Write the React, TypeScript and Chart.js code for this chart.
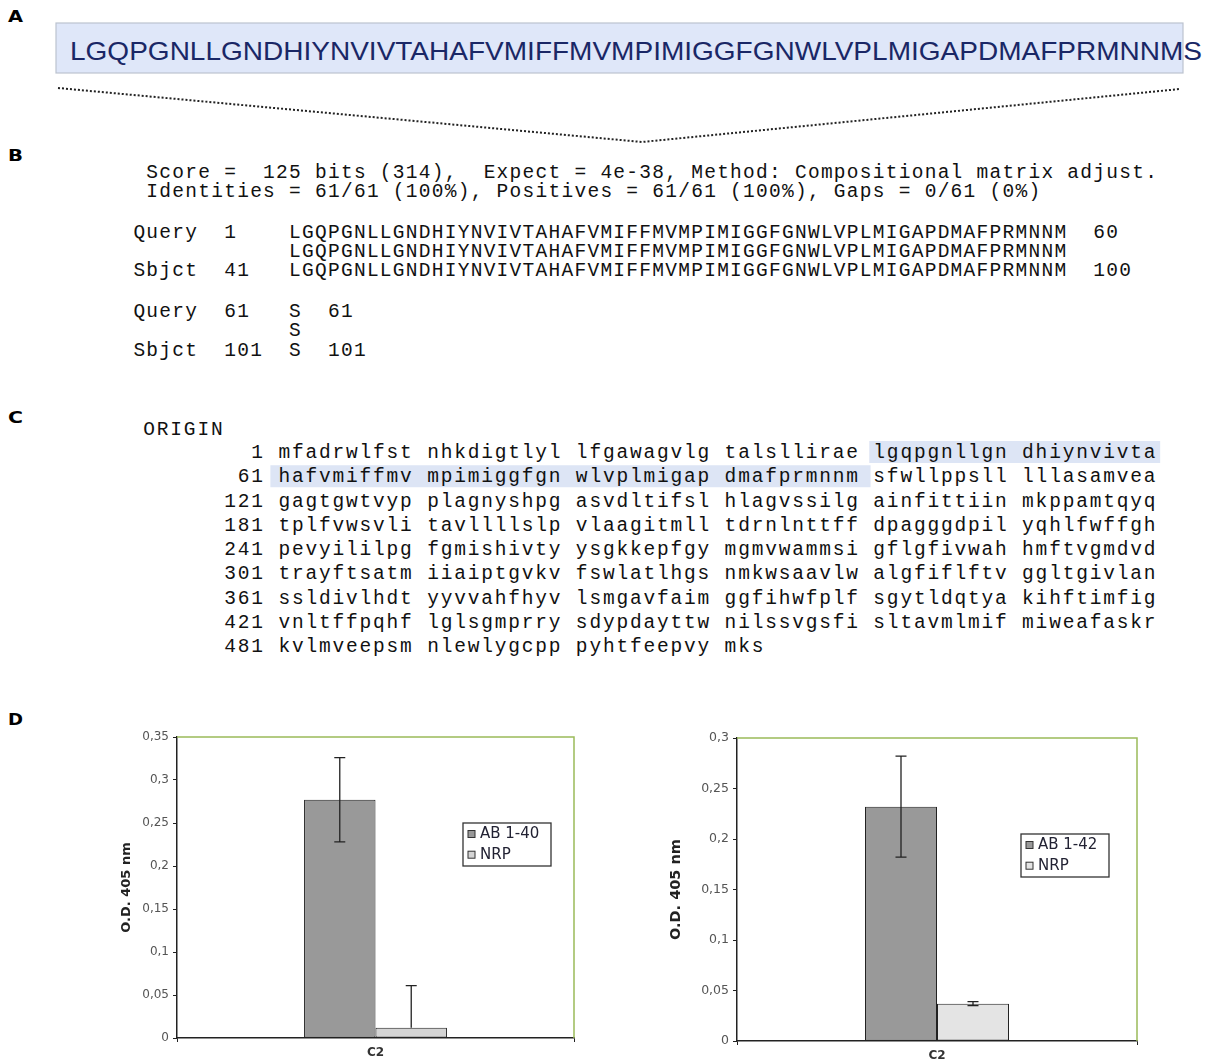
import React, { useEffect, useRef } from 'react';
import { Chart, registerables } from 'chart.js';

Chart.register(...registerables);

// ---------------- Panel A ----------------
const peptide = 'LGQPGNLLGNDHIYNVIVTAHAFVMIFFMVMPIMIGGFGNWLVPLMIGAPDMAFPRMNNMS';

// ---------------- Panel B ----------------
const blastLines = [
  ' Score =  125 bits (314),  Expect = 4e-38, Method: Compositional matrix adjust.',
  ' Identities = 61/61 (100%), Positives = 61/61 (100%), Gaps = 0/61 (0%)',
  'Query  1    LGQPGNLLGNDHIYNVIVTAHAFVMIFFMVMPIMIGGFGNWLVPLMIGAPDMAFPRMNNM  60',
  '            LGQPGNLLGNDHIYNVIVTAHAFVMIFFMVMPIMIGGFGNWLVPLMIGAPDMAFPRMNNM',
  'Sbjct  41   LGQPGNLLGNDHIYNVIVTAHAFVMIFFMVMPIMIGGFGNWLVPLMIGAPDMAFPRMNNM  100',
  'Query  61   S  61',
  '            S',
  'Sbjct  101  S  101',
];

// ---------------- Panel C ----------------
const originStarts = [1, 61, 121, 181, 241, 301, 361, 421, 481];
const originSeqs = [
  'mfadrwlfst nhkdigtlyl lfgawagvlg talsllirae lgqpgnllgn dhiynvivta',
  'hafvmiffmv mpimiggfgn wlvplmigap dmafprmnnm sfwllppsll lllasamvea',
  'gagtgwtvyp plagnyshpg asvdltifsl hlagvssilg ainfittiin mkppamtqyq',
  'tplfvwsvli tavllllslp vlaagitmll tdrnlnttff dpagggdpil yqhlfwffgh',
  'pevyililpg fgmishivty ysgkkepfgy mgmvwammsi gflgfivwah hmftvgmdvd',
  'trayftsatm iiaiptgvkv fswlatlhgs nmkwsaavlw algfiflftv ggltgivlan',
  'ssldivlhdt yyvvahfhyv lsmgavfaim ggfihwfplf sgytldqtya kihftimfig',
  'vnltffpqhf lglsgmprry sdypdayttw nilssvgsfi sltavmlmif miweafaskr',
  'kvlmveepsm nlewlygcpp pyhtfeepvy mks',
];

// ---------------- Panel D (charts) ----------------
const categories = ['C2'];

const ab40Values = [0.277];
const ab40ErrUp = [0.049];
const ab40ErrDown = [0.049];
const nrpAValues = [0.012];
const nrpAErrUp = [0.049];
const nrpAErrDown = [0];

const ab42Values = [0.232];
const ab42ErrUp = [0.05];
const ab42ErrDown = [0.05];
const nrpBValues = [0.037];
const nrpBErrUp = [0.002];
const nrpBErrDown = [0.002];

const yMaxLeft = 0.35;
const yMaxRight = 0.3;
const yStep = 0.05;
const yTitle = 'O.D. 405 nm';

const extrasPlugin = {
  id: 'extras',
  afterDatasetsDraw(chart: any, _args: any, opts: any) {
    const { ctx, chartArea: ca } = chart;
    const y = chart.scales.y;
    ctx.save();
    // green plot frame (top + right)
    ctx.strokeStyle = '#9bbb59';
    ctx.lineWidth = 1.5;
    ctx.beginPath();
    ctx.moveTo(ca.left, ca.top);
    ctx.lineTo(ca.right, ca.top);
    ctx.lineTo(ca.right, ca.bottom);
    ctx.stroke();
    // error bars
    ctx.strokeStyle = '#222';
    ctx.lineWidth = 1.3;
    chart.data.datasets.forEach((ds: any, di: number) => {
      const meta = chart.getDatasetMeta(di);
      meta.data.forEach((bar: any, i: number) => {
        const v = ds.data[i];
        const up = ds.errUp[i];
        const dn = ds.errDown[i];
        const x = bar.x;
        const yT = y.getPixelForValue(v + up);
        const yB = y.getPixelForValue(v - dn);
        const yV = y.getPixelForValue(v);
        const cw = 5.5;
        ctx.beginPath();
        ctx.moveTo(x, up > 0 ? yT : yV);
        ctx.lineTo(x, dn > 0 ? yB : yV);
        if (up > 0) { ctx.moveTo(x - cw, yT); ctx.lineTo(x + cw, yT); }
        if (dn > 0) { ctx.moveTo(x - cw, yB); ctx.lineTo(x + cw, yB); }
        ctx.stroke();
      });
    });
    // legend box
    const lx = ca.left + opts.dx;
    const ly = ca.top + opts.dy;
    const lw = 88;
    const lh = 43;
    ctx.fillStyle = '#fff';
    ctx.fillRect(lx, ly, lw, lh);
    ctx.strokeStyle = '#333';
    ctx.lineWidth = 1.3;
    ctx.strokeRect(lx, ly, lw, lh);
    ctx.font = '15px "DejaVu Sans"';
    ctx.textBaseline = 'middle';
    ctx.textAlign = 'left';
    chart.data.datasets.forEach((ds: any, di: number) => {
      const ry = ly + 11 + di * 20.7;
      ctx.fillStyle = ds.backgroundColor;
      ctx.fillRect(lx + 5, ry - 3.5, 7, 7);
      ctx.lineWidth = 1;
      ctx.strokeStyle = '#333';
      ctx.strokeRect(lx + 5, ry - 3.5, 7, 7);
      ctx.fillStyle = '#222233';
      ctx.fillText(ds.label, lx + 17, ry + 0.5);
    });
    ctx.restore();
  },
};

function makeConfig(p: any) {
  const fmt = (v: any) => String(+Number(v).toFixed(2)).replace('.', ',');
  return {
    type: 'bar',
    data: {
      labels: categories,
      datasets: p.series.map((s: any) => ({
        label: s.label,
        data: s.data,
        errUp: s.errUp,
        errDown: s.errDown,
        backgroundColor: s.color,
        borderColor: '#222',
        borderWidth: 1,
        borderSkipped: false,
        categoryPercentage: 0.36,
        barPercentage: 1,
      })),
    },
    options: {
      responsive: false,
      animation: false,
      layout: { padding: p.pad },
      plugins: {
        legend: { display: false },
        tooltip: { enabled: false },
        extras: { dx: p.legendDx, dy: p.legendDy },
      },
      scales: {
        x: {
          type: 'category',
          offset: true,
          afterFit: (s: any) => { s.height = p.xHeight; },
          grid: { display: true, offset: true, drawOnChartArea: false, drawTicks: true, tickLength: 4, color: '#222' },
          border: { display: true, color: '#222', width: 1.5 },
          ticks: { color: '#333', padding: 4, font: { family: 'DejaVu Sans', size: 12, weight: 'bold' } },
        },
        y: {
          min: 0,
          max: p.yMax,
          afterFit: (s: any) => { s.width = p.yWidth; },
          grid: { display: true, drawOnChartArea: false, drawTicks: true, tickLength: 4, color: '#222' },
          border: { display: true, color: '#222', width: 1.5 },
          ticks: {
            stepSize: yStep,
            color: '#555',
            padding: 4,
            font: { family: 'DejaVu Sans', size: p.tickSize },
            callback: (v: any) => fmt(v),
          },
          title: {
            display: true,
            text: yTitle,
            color: '#222',
            font: { family: 'DejaVu Sans', size: p.titleSize, weight: 'bold' },
          },
        },
      },
    },
    plugins: [extrasPlugin],
  };
}

function BarPanel(props: { left: number; top: number; width: number; height: number; cfg: any }) {
  const ref = useRef<HTMLCanvasElement | null>(null);
  useEffect(() => {
    const c = new Chart(ref.current as HTMLCanvasElement, props.cfg as any);
    return () => c.destroy();
  }, []);
  return (
    <canvas
      ref={ref}
      width={props.width}
      height={props.height}
      style={{ position: 'absolute', left: props.left, top: props.top, width: props.width, height: props.height }}
    />
  );
}

const cfgLeft = makeConfig({
  series: [
    { label: 'AB 1-40', data: ab40Values, errUp: ab40ErrUp, errDown: ab40ErrDown, color: '#999999' },
    { label: 'NRP', data: nrpAValues, errUp: nrpAErrUp, errDown: nrpAErrDown, color: '#d4d4d4' },
  ],
  yMax: yMaxLeft,
  pad: { left: 15, top: 17, right: 26, bottom: 0 },
  yWidth: 62,
  xHeight: 24,
  titleSize: 13,
  tickSize: 12,
  legendDx: 286,
  legendDy: 86,
});

const cfgRight = makeConfig({
  series: [
    { label: 'AB 1-42', data: ab42Values, errUp: ab42ErrUp, errDown: ab42ErrDown, color: '#999999' },
    { label: 'NRP', data: nrpBValues, errUp: nrpBErrUp, errDown: nrpBErrDown, color: '#e4e4e4' },
  ],
  yMax: yMaxRight,
  pad: { left: 24, top: 18, right: 23, bottom: 0 },
  yWidth: 73,
  xHeight: 21,
  titleSize: 14.5,
  tickSize: 12.5,
  legendDx: 284,
  legendDy: 96,
});

const mono = "'Liberation Mono', monospace";

export default function App() {
  const bBaselines = [178, 197, 238, 257, 276, 317, 336, 356];
  const monoSize = 19.5;
  const monoAdv = monoSize * 0.6;
  const bAdv = 12.97;
  const cAdv = 13.52;
  const cX0 = 224.3;
  const cBase0 = 458;
  const cStep = 24.25;
  return (
    <div style={{ position: 'absolute', left: 0, top: 0, width: 1206, height: 1062, background: '#fff', overflow: 'hidden' }}>
      <svg width={1206} height={1062} style={{ position: 'absolute', left: 0, top: 0 }}>
        {/* panel labels */}
        {[['A', 22], ['B', 161], ['C', 423], ['D', 725]].map(([t, y]) => (
          <text key={t as string} x={8} y={y as number} fontFamily="'DejaVu Sans', sans-serif" fontWeight="bold" fontSize={15}
            textLength={15} lengthAdjust="spacingAndGlyphs" fill="#000">{t}</text>
        ))}
        {/* Panel A */}
        <rect x={56} y={23} width={1127} height={50} fill="#dfe7f9" stroke="#bcc3cf" strokeWidth={1.2} />
        <text x={70} y={60} fontFamily="'Liberation Sans', Arial, sans-serif" fontSize={25.5} fill="#1a2766"
          textLength={1132} lengthAdjust="spacingAndGlyphs">{peptide}</text>
        <polyline points="58,88 642,142 1180,89" fill="none" stroke="#222" strokeWidth={2} strokeDasharray="2,2" />
        {/* Panel B */}
        {blastLines.map((t, i) => (
          <text key={'b' + i} x={133.4} y={bBaselines[i]} fontFamily={mono} fontSize={monoSize} fill="#111"
            style={{ whiteSpace: 'pre', letterSpacing: (bAdv - monoAdv) + 'px' }}>{t}</text>
        ))}
        {/* Panel C */}
        <rect x={cX0 + 48 * cAdv - 4} y={cBase0 - 17} width={21 * cAdv + 7} height={22} fill="#dde5f5" />
        <rect x={cX0 + 4 * cAdv - 8} y={cBase0 + cStep - 17} width={43.8 * cAdv + 8} height={22} fill="#dde5f5" />
        <text x={143.3} y={435} fontFamily={mono} fontSize={monoSize} fill="#111"
          style={{ whiteSpace: 'pre', letterSpacing: (cAdv - monoAdv) + 'px' }}>ORIGIN</text>
        {originSeqs.map((s, i) => (
          <text key={'c' + i} x={cX0} y={cBase0 + i * cStep} fontFamily={mono} fontSize={monoSize} fill="#111"
            style={{ whiteSpace: 'pre', letterSpacing: (cAdv - monoAdv) + 'px' }}>{String(originStarts[i]).padStart(3, ' ') + ' ' + s}</text>
        ))}
      </svg>
      <BarPanel left={100} top={720} width={500} height={342} cfg={cfgLeft} />
      <BarPanel left={640} top={720} width={520} height={342} cfg={cfgRight} />
    </div>
  );
}
